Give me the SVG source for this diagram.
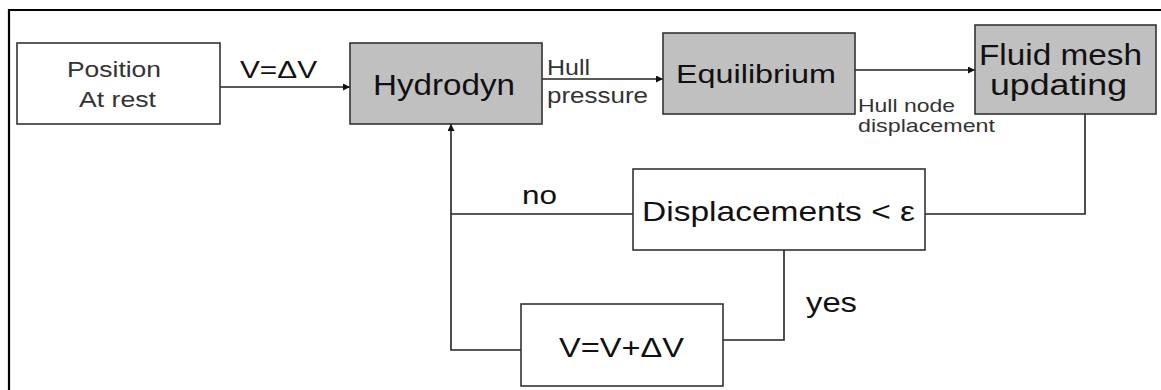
<svg xmlns="http://www.w3.org/2000/svg" width="1161" height="390" viewBox="0 0 1161 390">
<style>
.box{stroke:#333;stroke-width:1.6}
.w{fill:#fff}
.g{fill:#c0c0c0}
.t{font-family:"Liberation Sans",Arial,sans-serif;fill:#111}
.lt{font-family:"Liberation Sans",Arial,sans-serif;fill:#333}
.c{fill:none;stroke:#222;stroke-width:1.6}
.frame{stroke:#000;stroke-width:2.2;fill:none}
</style>
<defs>
<marker id="ah" viewBox="0 0 10 10" refX="10" refY="5" markerWidth="9" markerHeight="7" markerUnits="userSpaceOnUse" orient="auto">
<path d="M0,0 L10,5 L0,10 z" fill="#111"/>
</marker>
</defs>
<rect width="1161" height="390" fill="#fff"/>
<path class="frame" d="M9,390 V10 H1161"/>

<g id="connectors">
<line class="c" x1="220" y1="87" x2="350" y2="87" marker-end="url(#ah)"/>
<line class="c" x1="542" y1="79" x2="663" y2="79" marker-end="url(#ah)"/>
<line class="c" x1="855" y1="70" x2="975" y2="70" marker-end="url(#ah)"/>
<polyline class="c" points="1085,114 1085,214 925,214"/>
<polyline class="c" points="633,214 451,214"/>
<polyline class="c" points="521,350 451,350 451,124" marker-end="url(#ah)"/>
<polyline class="c" points="784,250 784,340 723,340"/>
<text class="lt" x="240" y="78" font-size="24" textLength="77" lengthAdjust="spacingAndGlyphs" style="fill:#111">V=ΔV</text>
<text class="lt" x="547" y="75" font-size="22" textLength="43" lengthAdjust="spacingAndGlyphs">Hull</text>
<text class="lt" x="547" y="103" font-size="22" textLength="101" lengthAdjust="spacingAndGlyphs">pressure</text>
<text class="lt" x="858" y="112" font-size="19" textLength="97" lengthAdjust="spacingAndGlyphs">Hull node</text>
<text class="lt" x="858" y="132" font-size="19" textLength="137" lengthAdjust="spacingAndGlyphs">displacement</text>
<text class="t" x="522" y="204" font-size="26" textLength="35" lengthAdjust="spacingAndGlyphs">no</text>
<text class="t" x="806" y="312" font-size="28" textLength="51" lengthAdjust="spacingAndGlyphs">yes</text>
</g>

<g id="position">
<rect class="box w" x="17" y="43" width="203" height="81"/>
<text class="lt" x="67" y="77" font-size="22" textLength="94" lengthAdjust="spacingAndGlyphs">Position</text>
<text class="lt" x="79" y="107" font-size="22" textLength="77" lengthAdjust="spacingAndGlyphs">At rest</text>
</g>

<g id="hydrodyn">
<rect class="box g" x="350" y="43" width="192" height="81"/>
<text class="t" x="373" y="95" font-size="30" textLength="142" lengthAdjust="spacingAndGlyphs">Hydrodyn</text>
</g>

<g id="equilibrium">
<rect class="box g" x="663" y="33" width="192" height="81"/>
<text class="t" x="676" y="83" font-size="26" textLength="160" lengthAdjust="spacingAndGlyphs">Equilibrium</text>
</g>

<g id="fluid">
<rect class="box g" x="975" y="25" width="181" height="89"/>
<text class="t" x="979" y="65" font-size="29" textLength="163" lengthAdjust="spacingAndGlyphs">Fluid mesh</text>
<text class="t" x="990" y="95" font-size="29" textLength="137" lengthAdjust="spacingAndGlyphs">updating</text>
</g>

<g id="displacements">
<rect class="box w" x="633" y="169" width="292" height="81"/>
<text class="t" x="642" y="221" font-size="28" textLength="273" lengthAdjust="spacingAndGlyphs">Displacements &lt; ε</text>
</g>

<g id="update">
<rect class="box w" x="521" y="304" width="202" height="82"/>
<text class="t" x="559" y="357" font-size="28" textLength="125" lengthAdjust="spacingAndGlyphs">V=V+ΔV</text>
</g>
</svg>
